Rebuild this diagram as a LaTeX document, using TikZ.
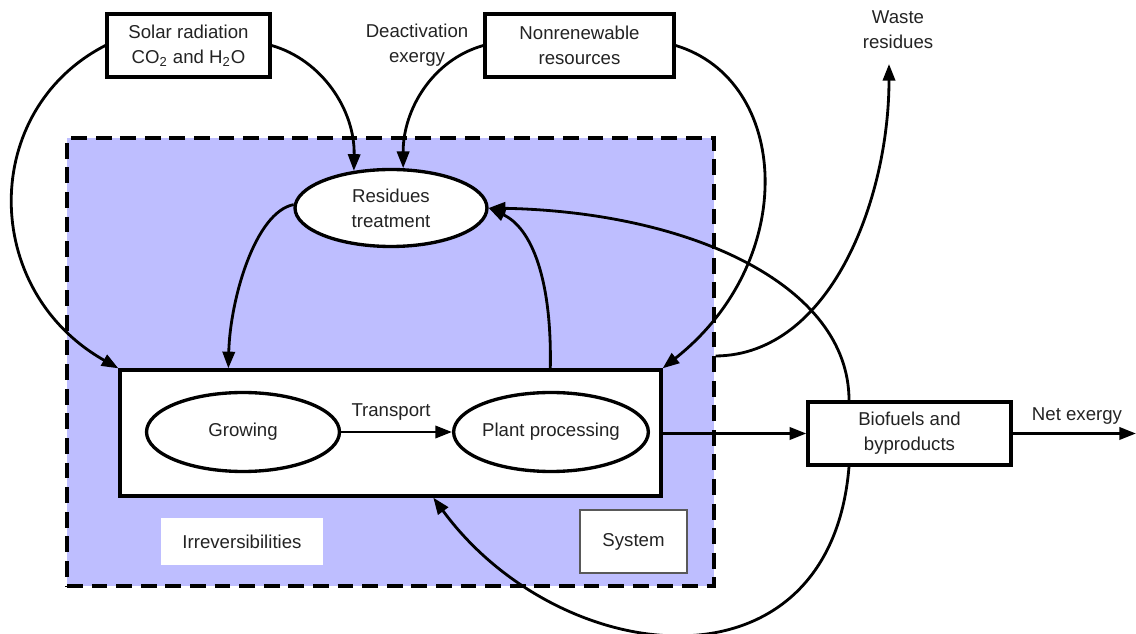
\documentclass[tikz,border=0pt]{standalone}
\usepackage{fontspec}
\setmainfont{Liberation Sans}
\usetikzlibrary{arrows.meta,shapes.geometric}
\definecolor{sysfill}{RGB}{190,190,255}
\definecolor{txt}{RGB}{35,35,35}
\begin{document}
\begin{tikzpicture}[x=0.02cm,y=-0.02cm,
  every node/.style={font=\fontsize{10.6}{14.2}\selectfont, text=txt, align=center},
  box/.style={draw, line width=1.9pt, fill=white, inner sep=0pt},
  ell/.style={ellipse, draw, line width=1.9pt, fill=white, inner sep=0pt},
  flow/.style={line width=1.6pt, -{Triangle[length=9.5pt,width=7pt]}},
  sysbox/.style={draw, line width=1.9pt, dash pattern=on 9pt off 5pt, fill=sysfill, inner sep=0pt},
  label/.style={inner sep=1pt}]
\useasboundingbox (0,0) rectangle (1136,634);

% system boundary
\node[sysbox, minimum width=12.94cm, minimum height=8.96cm] (sys) at (390.5,362) {};

% processes
\node[box, minimum width=10.82cm, minimum height=2.52cm] (proc) at (390.5,433) {};
\node[ell, minimum width=3.86cm, minimum height=1.58cm] (grow) at (243,432) {Growing};
\node[ell, minimum width=3.86cm, minimum height=1.58cm] (plant) at (551,432) {Plant processing};
\node[ell, minimum width=3.84cm, minimum height=1.54cm] (res) at (391,208) {Residues\\treatment};

% labels in system
\node[fill=white, minimum width=3.24cm, minimum height=0.94cm, inner sep=0pt] (irr) at (242,541.5) {Irreversibilities};
\node[draw=black!65, line width=0.6pt, fill=white, minimum width=2.14cm, minimum height=1.26cm, inner sep=0pt] (systxt) at (633.5,541.5) {System};

% external boxes
\node[box, minimum width=3.26cm, minimum height=1.26cm] (solar) at (188.5,45.5) {Solar radiation\\CO\textsubscript{2} and H\textsubscript{2}O};
\node[box, minimum width=3.78cm, minimum height=1.26cm] (nonren) at (579.5,45.5) {Nonrenewable\\resources};
\node[box, minimum width=4.06cm, minimum height=1.26cm] (bio) at (909.5,433.5) {Biofuels and\\byproducts};

% free labels
\node[label] (deact) at (417,45) {Deactivation\\exergy};
\node[label] (waste) at (898,30) {Waste\\residues};
\node[label] (transp) at (391,412) {Transport};
\node[label] (net) at (1077,416) {Net exergy};
\coordinate (wastetip) at (889,64);
\coordinate (netend) at (1136,433.5);

% connectors
\draw[flow] (grow.east) -- (plant.west);
\draw[flow] (bio.west -| proc.east) -- (bio.west);
\draw[flow] (bio.east) -- (netend);

\draw[flow] (solar.west) .. controls (-20,110) and (-20,290) .. (proc.north west);
\draw[flow] (solar.east) .. controls (322,60) and (355,110) .. (res.135);
\draw[flow] (nonren.west) .. controls (432,60) and (403,110) .. (res.73);
\draw[flow] (nonren.east) .. controls (790,80) and (800,260) .. (proc.north east);
\draw[flow] (res.178) .. controls (255,212) and (230,300) .. ([xshift=2.2cm]proc.north west);
\draw[flow] ([xshift=8.64cm]proc.north west) .. controls (552,280) and (532,228) .. (res.east);
\draw[flow] ([xshift=-1.21cm]bio.north) .. controls (849,285) and (690,212) .. (res.east);
\draw[flow] ([yshift=0.12cm]sys.east) .. controls (830,355) and (889,200) .. (wastetip);
\draw[flow] ([xshift=-1.21cm]bio.south) .. controls (830,700) and (560,670) .. ([xshift=6.3cm]proc.south west);
\end{tikzpicture}
\end{document}
